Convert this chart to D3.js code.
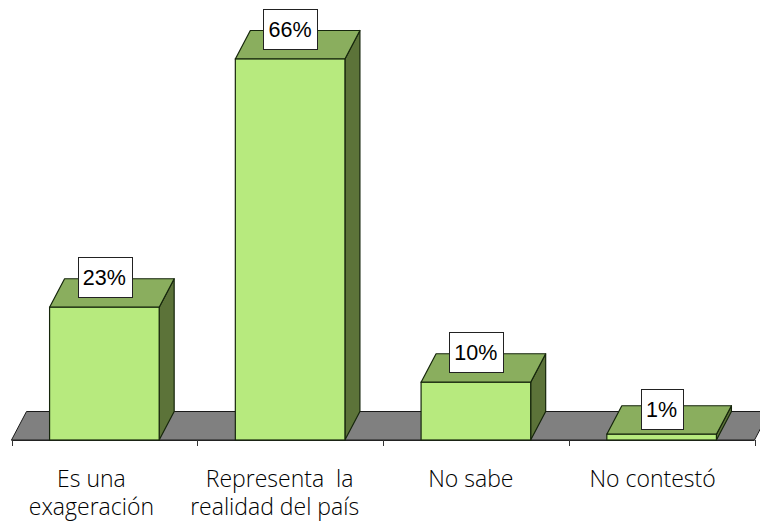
<!DOCTYPE html>
<html><head><meta charset="utf-8">
<script src="https://cdn.jsdelivr.net/npm/d3@7"></script>
<style>html,body{margin:0;padding:0;background:#fff;overflow:hidden}svg{display:block}</style>
</head><body><svg id="c" width="760" height="522"></svg>
<script>
const categories = ["Es una","Representa  la","No sabe","No contestó"];
const categoryLine2 = ["exageración","realidad del país","",""];
const values = [23,66,10,1];
const valueLabels = ["23%","66%","10%","1%"];

const svg = d3.select("#c");
const baseY = 440, dx = 15, dy = 28.5;
const x = d3.scaleBand().domain(categories).range([11.5,754.5]).paddingInner(0.41).paddingOuter(0.205);
const y = d3.scaleLinear().domain([0,66]).range([baseY,59]);

// floor
const x0 = x.range()[0], x1 = x.range()[1];
svg.append("path")
  .attr("d", `M${x0},${baseY}L${x0+dx},${baseY-dy}L${x1+dx},${baseY-dy}L${x1},${baseY}Z`)
  .attr("fill","#808080").attr("stroke","#1a1a1a").attr("stroke-width",1);

// axis
const tickPos = d3.range(categories.length+1).map(i => x0 + i*x.step());
svg.append("path").attr("d",`M${x0},${baseY+0.5}H${x1}`).attr("stroke","#222").attr("stroke-width",1.2);
svg.selectAll("line.t").data(tickPos).join("line").attr("class","t")
  .attr("x1",d=>Math.round(d)+0.5).attr("x2",d=>Math.round(d)+0.5)
  .attr("y1",baseY).attr("y2",baseY+6).attr("stroke","#333").attr("stroke-width",1);

// bars
const g = svg.selectAll("g.b").data(categories).join("g").attr("class","b");
const stroke = "#16260c";
g.append("path") // side
  .attr("d",(d,i)=>{const r=x(d)+x.bandwidth(),t=y(values[i]);return `M${r},${t}L${r+dx},${t-dy}V${baseY-dy}L${r},${baseY}Z`;})
  .attr("fill","#5c7339").attr("stroke",stroke).attr("stroke-width",1.2).attr("stroke-linejoin","round");
g.append("path") // top
  .attr("d",(d,i)=>{const l=x(d),r=l+x.bandwidth(),t=y(values[i]);return `M${l},${t}L${l+dx},${t-dy}H${r+dx}L${r},${t}Z`;})
  .attr("fill","#8aae5e").attr("stroke",stroke).attr("stroke-width",1.2).attr("stroke-linejoin","round");
g.append("rect") // front
  .attr("x",d=>x(d)).attr("y",(d,i)=>y(values[i]))
  .attr("width",x.bandwidth()).attr("height",(d,i)=>baseY-y(values[i]))
  .attr("fill","#b7ea7e").attr("stroke",stroke).attr("stroke-width",1.2);

// value labels
g.each(function(d,i){
  const cx = x(d)+x.bandwidth()/2, cy = y(values[i])-dy-1.5+(values[i]<5?5:0);
  const sel = d3.select(this);
  const r = sel.append("rect").attr("fill","#fff").attr("stroke","#222").attr("stroke-width",1);
  const t = sel.append("text").text(valueLabels[i]).attr("x",cx).attr("y",cy+7.5)
    .attr("text-anchor","middle").attr("font-family","'Liberation Sans',Arial,sans-serif")
    .attr("font-size",21.5).attr("fill","#000");
  const w = t.node().getComputedTextLength()+10.5;
  r.attr("x",Math.round(cx-w/2)+0.5).attr("y",Math.round(cy-20)+0.5).attr("width",Math.round(w)).attr("height",40);
});

// category labels
const lab = svg.append("g").attr("font-family","'Open Sans',sans-serif").attr("font-weight",300)
  .attr("font-size",23).attr("fill","#000").attr("text-anchor","middle");
const labelShift = [-13,-10.5,-5,-9];
const line2Shift = [-13,-15.5,0,0];
categories.forEach((c,i)=>{
  const bc = x(c)+x.bandwidth()/2;
  lab.append("text").attr("x",bc+labelShift[i]).attr("y",487).style("white-space","pre").text(c);
  if(categoryLine2[i]) lab.append("text").attr("x",bc+line2Shift[i]).attr("y",515).text(categoryLine2[i]);
});
</script></body></html>
